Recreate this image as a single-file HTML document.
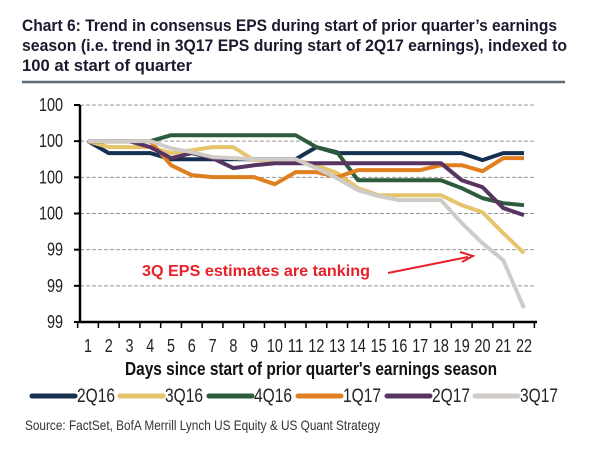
<!DOCTYPE html>
<html><head><meta charset="utf-8"><style>
html,body{margin:0;padding:0;background:#fff;}
svg{display:block;}
text{font-family:"Liberation Sans Narrow","Liberation Sans",sans-serif;}
</style></head><body>
<svg id="chart" width="607" height="454" viewBox="0 0 607 454">
<g font-weight="bold" font-size="17" fill="#1a1a2e">
<text x="22" y="31" textLength="535" lengthAdjust="spacingAndGlyphs">Chart 6: Trend in consensus EPS during start of prior quarter’s earnings</text>
<text x="22" y="51" textLength="545" lengthAdjust="spacingAndGlyphs">season (i.e. trend in 3Q17 EPS during start of 2Q17 earnings), indexed to</text>
<text x="22" y="71" textLength="170" lengthAdjust="spacingAndGlyphs">100 at start of quarter</text>
</g>
<line x1="22" y1="82" x2="565" y2="82" stroke="#5f6b78" stroke-width="2.5"/>
<g id="grid"></g>
<g id="yaxis"></g>
<g id="xaxis"></g>
<g id="series"></g>
<text x="125" y="375" font-size="18" font-weight="bold" fill="#111" textLength="372" lengthAdjust="spacingAndGlyphs">Days since start of prior quarter's earnings season</text>
<text x="142" y="276" font-size="16" font-weight="bold" fill="#e8202a" textLength="228" lengthAdjust="spacingAndGlyphs">3Q EPS estimates are tanking</text>
<g stroke="#e8202a" stroke-width="2" fill="#e8202a">
<line x1="388" y1="273" x2="468" y2="257"/>
<polyline points="460,252 473,256 462,262" fill="none"/>
</g>
<g id="legend"></g>
<text x="25" y="430" font-size="14" fill="#333" textLength="355" lengthAdjust="spacingAndGlyphs">Source: FactSet, BofA Merrill Lynch US Equity &amp; US Quant Strategy</text>
</svg>
<script>
const days = [1,2,3,4,5,6,7,8,9,10,11,12,13,14,15,16,17,18,19,20,21,22];
const yTicks = [100.2,100.0,99.8,99.6,99.4,99.2,99.0];
const seriesNames = ["2Q16","3Q16","4Q16","1Q17","2Q17","3Q17"];
const seriesColors = ["#142f50","#e5c46c","#2d5c3d","#e07f1f","#583463","#cfccc8"];
const s2Q16 = [100,99.934,99.934,99.934,99.9,99.9,99.9,99.9,99.9,99.9,99.9,99.967,99.934,99.934,99.934,99.934,99.934,99.934,99.934,99.895,99.934,99.934];
const s3Q16 = [100,99.967,99.967,99.967,99.934,99.95,99.967,99.967,99.895,99.895,99.895,99.867,99.823,99.74,99.701,99.701,99.701,99.701,99.646,99.607,99.491,99.381];
const s4Q16 = [100,100,100,100,100.033,100.033,100.033,100.033,100.033,100.033,100.033,99.967,99.939,99.784,99.784,99.784,99.784,99.784,99.74,99.685,99.657,99.646];
const s1Q17 = [100,100,100,100,99.867,99.812,99.801,99.801,99.801,99.762,99.829,99.829,99.801,99.84,99.84,99.84,99.84,99.867,99.867,99.834,99.906,99.906];
const s2Q17 = [100,100,100,99.967,99.906,99.934,99.906,99.851,99.867,99.878,99.878,99.878,99.878,99.878,99.878,99.878,99.878,99.878,99.784,99.746,99.63,99.591];
const s3Q17 = [100,100,100,100,99.961,99.939,99.912,99.906,99.9,99.9,99.9,99.851,99.795,99.729,99.696,99.674,99.674,99.674,99.547,99.436,99.342,99.077];
const allSeries = [s2Q16,s3Q16,s4Q16,s1Q17,s2Q17,s3Q17];

const NS="http://www.w3.org/2000/svg";
const X0=88, X1=524, YT=105, YB=322;
function xScale(d){return X0+(d-days[0])*(X1-X0)/(days[days.length-1]-days[0]);}
function yScale(v){const a=yTicks[0],b=yTicks[yTicks.length-1];return YT+(a-v)*(YB-YT)/(a-b);}
function mk(tag,attrs,parent){const e=document.createElementNS(NS,tag);for(const k in attrs)e.setAttribute(k,attrs[k]);parent.appendChild(e);return e;}

const grid=document.getElementById('grid'), yax=document.getElementById('yaxis'), xax=document.getElementById('xaxis');
yTicks.forEach((t,i)=>{
  const y=yScale(t);
  if(i<yTicks.length-1){
    const g=mk('line',{x1:80,y1:y,x2:535,y2:y,stroke:'#999','stroke-width':1,'stroke-dasharray':'4,2'},grid);
    
    
  }
  const tk=mk('line',{x1:74,y1:y,x2:80,y2:y,stroke:'#000','stroke-width':2},yax);
  
  
  const lbl=Math.round(t).toString();
  const lb=mk('text',{x:63,y:y+6,'text-anchor':'end','font-size':18,fill:'#222',textLength:lbl.length*8,lengthAdjust:'spacingAndGlyphs'},yax);
  lb.textContent=lbl;
  
  
});
const ya=mk('line',{x1:80,y1:YT,x2:80,y2:YB+1,stroke:'#000','stroke-width':2.5},yax);


const xa=mk('line',{x1:79,y1:YB,x2:537,y2:YB,stroke:'#000','stroke-width':2.5},xax);


const step=(X1-X0)/(days.length-1);
for(let i=0;i<=days.length;i++){
  const x=X0-step/2+i*step;
  const t=mk('line',{x1:x,y1:YB,x2:x,y2:YB+6,stroke:'#000','stroke-width':1.5},xax);
  
  
}
days.forEach(d=>{
  const s=String(d);
  const lb=mk('text',{x:xScale(d),y:352,'text-anchor':'middle','font-size':18,fill:'#222',textLength:s.length*8,lengthAdjust:'spacingAndGlyphs'},xax);
  lb.textContent=s;
  
  
});
const ser=document.getElementById('series');
allSeries.forEach((s,i)=>{
  const pts=s.map((v,j)=>xScale(days[j])+','+yScale(v)).join(' ');
  const p=mk('polyline',{points:pts,fill:'none',stroke:seriesColors[i],'stroke-width':4,'stroke-linejoin':'round'},ser);
  
  
});
const lg=document.getElementById('legend');
const lgX=[30,118,207,296,385,473];
seriesNames.forEach((n,i)=>{
  const g=mk('g',{},lg);
  
  
  mk('line',{x1:lgX[i]+2,y1:396,x2:lgX[i]+45,y2:396,stroke:seriesColors[i],'stroke-width':5,'stroke-linecap':'round'},g);
  const t=mk('text',{x:lgX[i]+47,y:402,'font-size':19,fill:'#222',textLength:38,lengthAdjust:'spacingAndGlyphs'},g);
  t.textContent=n;
});
</script>
</body></html>
